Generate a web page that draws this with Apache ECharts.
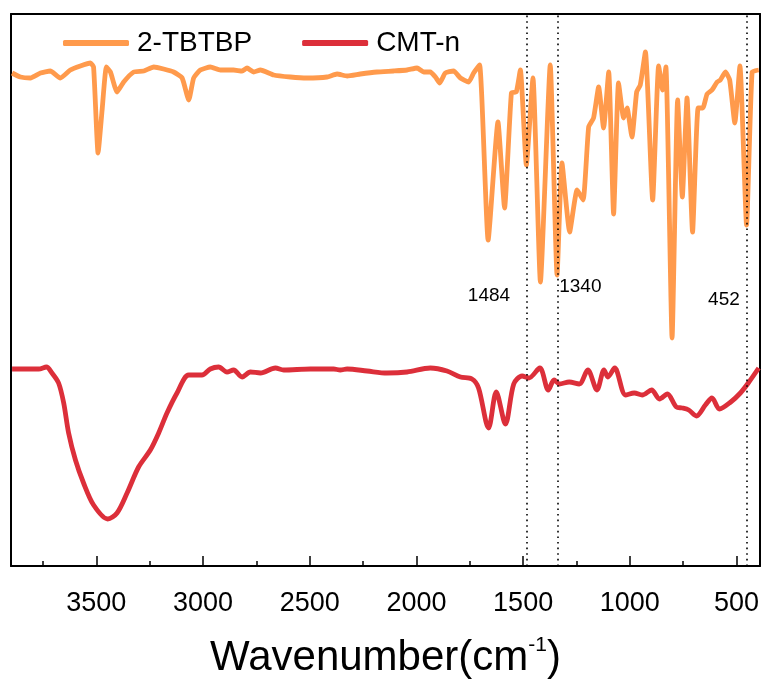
<!DOCTYPE html>
<html>
<head>
<meta charset="utf-8">
<script src="https://cdn.jsdelivr.net/npm/echarts@6/dist/echarts.min.js"></script>
<style>
  html, body { margin: 0; padding: 0; background: #fff; }
  #ftir { width: 771px; height: 684px; }
</style>
</head>
<body>
<div id="ftir"></div>
<script>
// 2-TBTBP 光谱 (波数, 强度 a.u.)
var tbtbpWave = [3895, 3856, 3809, 3762, 3716, 3669, 3622, 3575, 3528, 3513, 3492, 3473, 3453, 3434, 3403, 3372, 3325, 3278, 3231, 3185,
  3138, 3098, 3067, 3044, 3013, 2966, 2919, 2857, 2817, 2794, 2763, 2731, 2669, 2591, 2513, 2419, 2372, 2325, 2263, 2185,
  2107, 2044, 1997, 1966, 1935, 1911, 1891, 1865, 1826, 1794, 1755, 1732, 1704, 1664, 1618, 1587, 1555, 1532, 1513, 1485,
  1454, 1419, 1373, 1341, 1318, 1282, 1247, 1219, 1193, 1170, 1146, 1123, 1099, 1076, 1053, 1029, 1013, 990, 968, 951,
  927, 893, 865, 846, 831, 802, 776, 754, 732, 706, 680, 658, 638, 615, 591, 576, 552, 532, 508, 484,
  453, 427, 396];
var tbtbpVal = [493, 489, 488, 493, 495, 488, 496, 500, 503, 499, 413, 456, 499, 494, 474, 484, 494, 495, 499, 497,
  494, 488, 466, 488, 496, 499, 496, 496, 495, 498, 494, 496, 491, 489, 488, 489, 492, 490, 492, 494,
  495, 496, 498, 494, 494, 489, 483, 493, 495, 488, 484, 493, 501, 326, 444, 358, 473, 474, 496, 401,
  488, 284, 501, 291, 403, 334, 376, 366, 439, 448, 479, 438, 494, 352, 483, 448, 458, 429, 474, 481,
  514, 366, 500, 476, 499, 228, 466, 369, 468, 334, 458, 458, 472, 476, 484, 486, 494, 486, 443, 500,
  341, 494, 496];

// CMT-n 光谱
var cmtWave = [3895, 3825, 3770, 3734, 3708, 3677, 3653, 3630, 3598, 3560, 3513, 3447, 3403, 3356, 3302, 3247, 3208, 3169, 3122, 3067,
  3005, 2966, 2927, 2888, 2857, 2817, 2778, 2731, 2661, 2622, 2497, 2388, 2357, 2325, 2231, 2138, 2044, 1935, 1857, 1794,
  1740, 1709, 1662, 1626, 1583, 1544, 1505, 1473, 1422, 1382, 1355, 1330, 1284, 1237, 1197, 1154, 1121, 1103, 1071, 1020,
  979, 942, 898, 861, 824, 782, 754, 724, 688, 646, 615, 580, 527, 482, 445, 396];
var cmtVal = [197, 197, 197, 199, 193, 183, 163, 133, 106, 83, 61, 47, 53, 73, 99, 116, 133, 153, 173, 191,
  191, 197, 199, 194, 196, 189, 194, 193, 198, 196, 197, 197, 196, 197, 195, 193, 194, 198, 195, 189,
  187, 178, 138, 174, 142, 182, 190, 188, 198, 176, 186, 182, 184, 182, 196, 176, 196, 189, 198, 171,
  173, 171, 176, 167, 172, 159, 158, 156, 150, 161, 168, 157, 164, 173, 183, 198];

var majorTicks = [3500, 3000, 2500, 2000, 1500, 1000, 500];
var minorTicks = [3750, 3250, 2750, 2250, 1750, 1250, 750];
var markWaves = [1484, 1340, 452];
// 标注文字 [波数, 强度, 文字]
var peakNotes = [[1660, 270, '1484'], [1232, 279, '1340'], [559, 266, '452']];

function zip(xs, ys) {
  var out = [];
  for (var i = 0; i < xs.length; i++) out.push([xs[i], ys[i]]);
  return out;
}

var chart = echarts.init(document.getElementById('ftir'));
var font = 'Arial, "Liberation Sans", sans-serif';
var frame = { show: true, onZero: false, lineStyle: { color: '#000', width: 2 } };
var hidden = { show: false };

var option = {
  animation: false,
  grid: { left: 11, right: 11, top: 14, bottom: 118, outerBoundsMode: 'none' },
  legend: {
    left: 58, top: 24,
    itemWidth: 66, itemHeight: 6, itemGap: 50,
    icon: 'roundRect',
    textStyle: { fontFamily: font, fontSize: 28, color: '#000', padding: [0, 0, 0, 3] },
    data: ['2-TBTBP', 'CMT-n']
  },
  xAxis: [{
    type: 'value', inverse: true, min: 390, max: 3900, position: 'bottom',
    axisLine: frame,
    axisTick: { show: true, inside: true, length: 10, customValues: majorTicks, lineStyle: { color: '#000', width: 1.5 } },
    axisLabel: {
      customValues: majorTicks, fontFamily: font, fontSize: 27, color: '#000', margin: 24,
      formatter: function(v) { return String(v); }
    },
    splitLine: hidden,
    name: '{a|Wavenumber(cm}{s|-1}{a|)}',
    nameLocation: 'middle', nameGap: 69,
    nameTextStyle: {
      rich: {
        a: { fontFamily: font, fontSize: 42, color: '#000' },
        s: { fontFamily: font, fontSize: 21, color: '#000', verticalAlign: 'top', padding: [0, 0, 26, 0] }
      }
    }
  }, {
    type: 'value', inverse: true, min: 390, max: 3900, position: 'bottom',
    axisLine: hidden,
    axisTick: { show: true, inside: true, length: 5, customValues: minorTicks, lineStyle: { color: '#000', width: 1.5 } },
    axisLabel: { show: false, customValues: minorTicks },
    splitLine: hidden
  }, {
    type: 'value', inverse: true, min: 390, max: 3900, position: 'top',
    axisLine: frame, axisTick: hidden, axisLabel: hidden, splitLine: hidden
  }],
  yAxis: [{
    type: 'value', min: 0, max: 552, position: 'left',
    axisLine: frame, axisTick: hidden, axisLabel: hidden, splitLine: hidden
  }, {
    type: 'value', min: 0, max: 552, position: 'right',
    axisLine: frame, axisTick: hidden, axisLabel: hidden, splitLine: hidden
  }],
  series: [{
    name: '2-TBTBP', type: 'line', showSymbol: false, smooth: 0.15,
    color: '#FF9A4C',
    lineStyle: { width: 4.8, color: '#FF9A4C' },
    data: zip(tbtbpWave, tbtbpVal),
    markLine: {
      silent: true, symbol: 'none',
      label: { show: false },
      lineStyle: { color: '#000', type: [1.6, 4], width: 1.6 },
      data: markWaves.map(function(w) { return { xAxis: w }; })
    }
  }, {
    name: 'notes', type: 'scatter', symbolSize: 1, silent: true,
    itemStyle: { color: 'rgba(0,0,0,0)', opacity: 1 },
    label: {
      show: true, position: 'inside', fontFamily: font, fontSize: 19, color: '#000', opacity: 1,
      formatter: function(p) { return p.data[2]; }
    },
    data: peakNotes
  }, {
    name: 'CMT-n', type: 'line', showSymbol: false, smooth: 0.3,
    color: '#DC2F3A',
    lineStyle: { width: 4.8, color: '#DC2F3A' },
    data: zip(cmtWave, cmtVal)
  }]
};

chart.setOption(option);
</script>
</body>
</html>
